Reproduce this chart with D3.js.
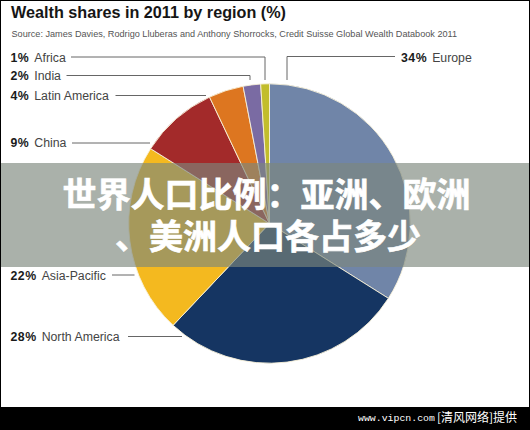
<!DOCTYPE html>
<html><head><meta charset="utf-8">
<script src="https://cdn.jsdelivr.net/npm/d3@7"></script>
<style>
html,body{margin:0;padding:0;background:#fff;overflow:hidden}
svg{display:block;font-family:"Liberation Sans",Arial,sans-serif}
</style></head><body><div id="c"></div>
<script>
const regions = ["Europe","North America","Asia-Pacific","China","Latin America","India","Africa"];
const shares = [34,28,22,9,4,2,1];
const colours = ["#7085a8","#153562","#f4b91f","#a32a2a","#dd7620","#7a6ba3","#c2bd2c"];
const titleText = "Wealth shares in 2011 by region (%)";
const sourceText = "Source: James Davies, Rodrigo Lluberas and Anthony Shorrocks, Credit Suisse Global Wealth Databook 2011";
const bannerLines = ["世界人口比例：亚洲、欧洲","、美洲人口各占多少"];
const footerLatin = "www.vipcn.com";
const footerCjk = "[清风网络]提供";

const W=530,H=430,cx=269.5,cy=223.5,R=139.7;
const svg=d3.select("#c").append("svg").attr("width",W).attr("height",H);
svg.append("rect").attr("width",W).attr("height",H).attr("fill","#fff");

svg.append("text").attr("x",11).attr("y",18).attr("font-size",16.2).attr("font-weight",700).attr("fill","#161616").text(titleText);
svg.append("text").attr("x",11.5).attr("y",37).attr("font-size",9.13).attr("fill","#555").text(sourceText);

const pie=d3.pie().value(d=>d).sort(null)(shares);
const arc=d3.arc().innerRadius(0).outerRadius(R);
svg.append("g").attr("transform",`translate(${cx},${cy}) scale(1.008,1)`).selectAll("path").data(pie).join("path")
  .attr("d",arc).attr("fill",(d,i)=>colours[i]).attr("stroke","#f7f1d8").attr("stroke-width",.9);

const layout={
 "Africa":{x:10.5,y:62,line:[[71,57],[265,57],[265,80]]},
 "India":{x:10.5,y:80,line:[[66.5,75.5],[250,75.5],[250,80]]},
 "Latin America":{x:10.5,y:99.5,line:[[115.5,95.5],[206,95.5]]},
 "China":{x:10.5,y:147,line:[[72,143],[150,143]]},
 "Asia-Pacific":{x:10.5,y:280,line:[[112,275],[134.5,275]]},
 "North America":{x:10.5,y:341,line:[[128,336.5],[182,336.5]]},
 "Europe":{x:401,y:62,line:[[395,56.5],[287,56.5],[287,80]]}
};
const lineGen=d3.line();
regions.forEach((r,i)=>{
  const l=layout[r];
  svg.append("path").attr("d",lineGen(l.line)).attr("fill","none").attr("stroke","#666").attr("stroke-width",1);
  const t=svg.append("text").attr("x",l.x).attr("y",l.y).attr("font-size",12.3).attr("fill","#444");
  t.append("tspan").attr("font-weight",700).attr("fill","#1a1a1a").attr("letter-spacing",.5).text(shares[i]+"%");
  t.append("tspan").attr("dx",5).text(r);
});

svg.append("rect").attr("x",0).attr("y",163).attr("width",W).attr("height",104).attr("fill","rgb(125,135,125)").attr("fill-opacity",.65);
bannerLines.forEach((s,i)=>svg.append("text").attr("x",i?268:266.5).attr("y",207+i*42)
  .attr("text-anchor","middle").attr("font-family",'"Noto Sans CJK SC"').attr("font-weight",700)
  .attr("font-size",34).attr("fill","#fff").attr("stroke","#fff").attr("stroke-width",.6).text(s));

svg.append("rect").attr("y",407).attr("width",W).attr("height",23).attr("fill","#000");
svg.append("text").attr("x",358).attr("y",420.5).attr("font-family",'"Liberation Mono"').attr("font-size",9.87).attr("fill","#fff").text(footerLatin);
svg.append("text").attr("x",437).attr("y",421.5).attr("font-family",'"Noto Sans CJK SC"').attr("font-size",12).attr("fill","#fff").text(footerCjk);
svg.append("rect").attr("x",.5).attr("y",.5).attr("width",W-1).attr("height",H-1).attr("fill","none").attr("stroke","#000");
</script></body></html>
